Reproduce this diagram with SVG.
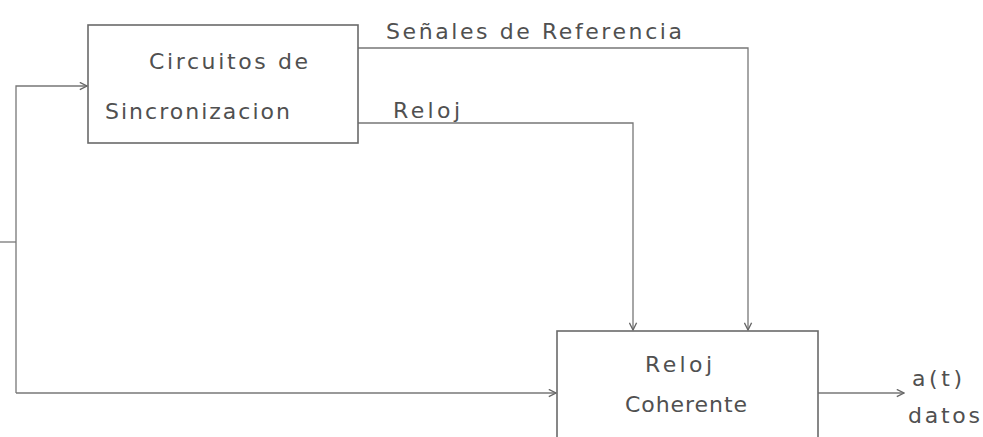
<svg xmlns="http://www.w3.org/2000/svg" width="983" height="437" viewBox="0 0 983 437">
<style>
.box{fill:none;stroke:#6a6a6a;stroke-width:1.6}
.ln{fill:none;stroke:#777;stroke-width:1.3}
text{font-family:"DejaVu Sans","Liberation Sans",sans-serif;font-size:22px;fill:#505050}
</style>
<defs>
<marker id="ah" viewBox="0 0 10 10" refX="9" refY="5" markerWidth="9" markerHeight="9" orient="auto" markerUnits="userSpaceOnUse">
<path d="M1,1 L9,5 L1,9" fill="none" stroke="#666" stroke-width="1.5"/>
</marker>
</defs>
<rect width="983" height="437" fill="#fff"/>
<g id="connectors">
<path class="ln" d="M0,242 H16"/>
<path class="ln" d="M16,393 V86 H87" marker-end="url(#ah)"/>
<path class="ln" d="M16,393 H556" marker-end="url(#ah)"/>
<path class="ln" d="M358,48 H748 V330" marker-end="url(#ah)"/>
<path class="ln" d="M358,123 H633 V330" marker-end="url(#ah)"/>
<path class="ln" d="M818,393 H904" marker-end="url(#ah)"/>
</g>
<g id="sincronizacion">
<rect class="box" x="88" y="25" width="270" height="118"/>
<text x="149" y="69" textLength="159" lengthAdjust="spacing">Circuitos de</text>
<text x="105" y="119" textLength="185" lengthAdjust="spacing">Sincronizacion</text>
</g>
<g id="reloj-coherente">
<rect class="box" x="557" y="331" width="261" height="120"/>
<text x="645" y="372" textLength="67" lengthAdjust="spacing">Reloj</text>
<text x="625" y="412" textLength="122" lengthAdjust="spacing">Coherente</text>
</g>
<g id="labels">
<text x="386" y="39" textLength="296" lengthAdjust="spacing">Señales de Referencia</text>
<text x="393" y="118" textLength="67" lengthAdjust="spacing">Reloj</text>
<text x="912" y="386" font-size="17" textLength="50" lengthAdjust="spacing">a(t)</text>
<text x="908" y="423" textLength="72" lengthAdjust="spacing">datos</text>
</g>
</svg>
